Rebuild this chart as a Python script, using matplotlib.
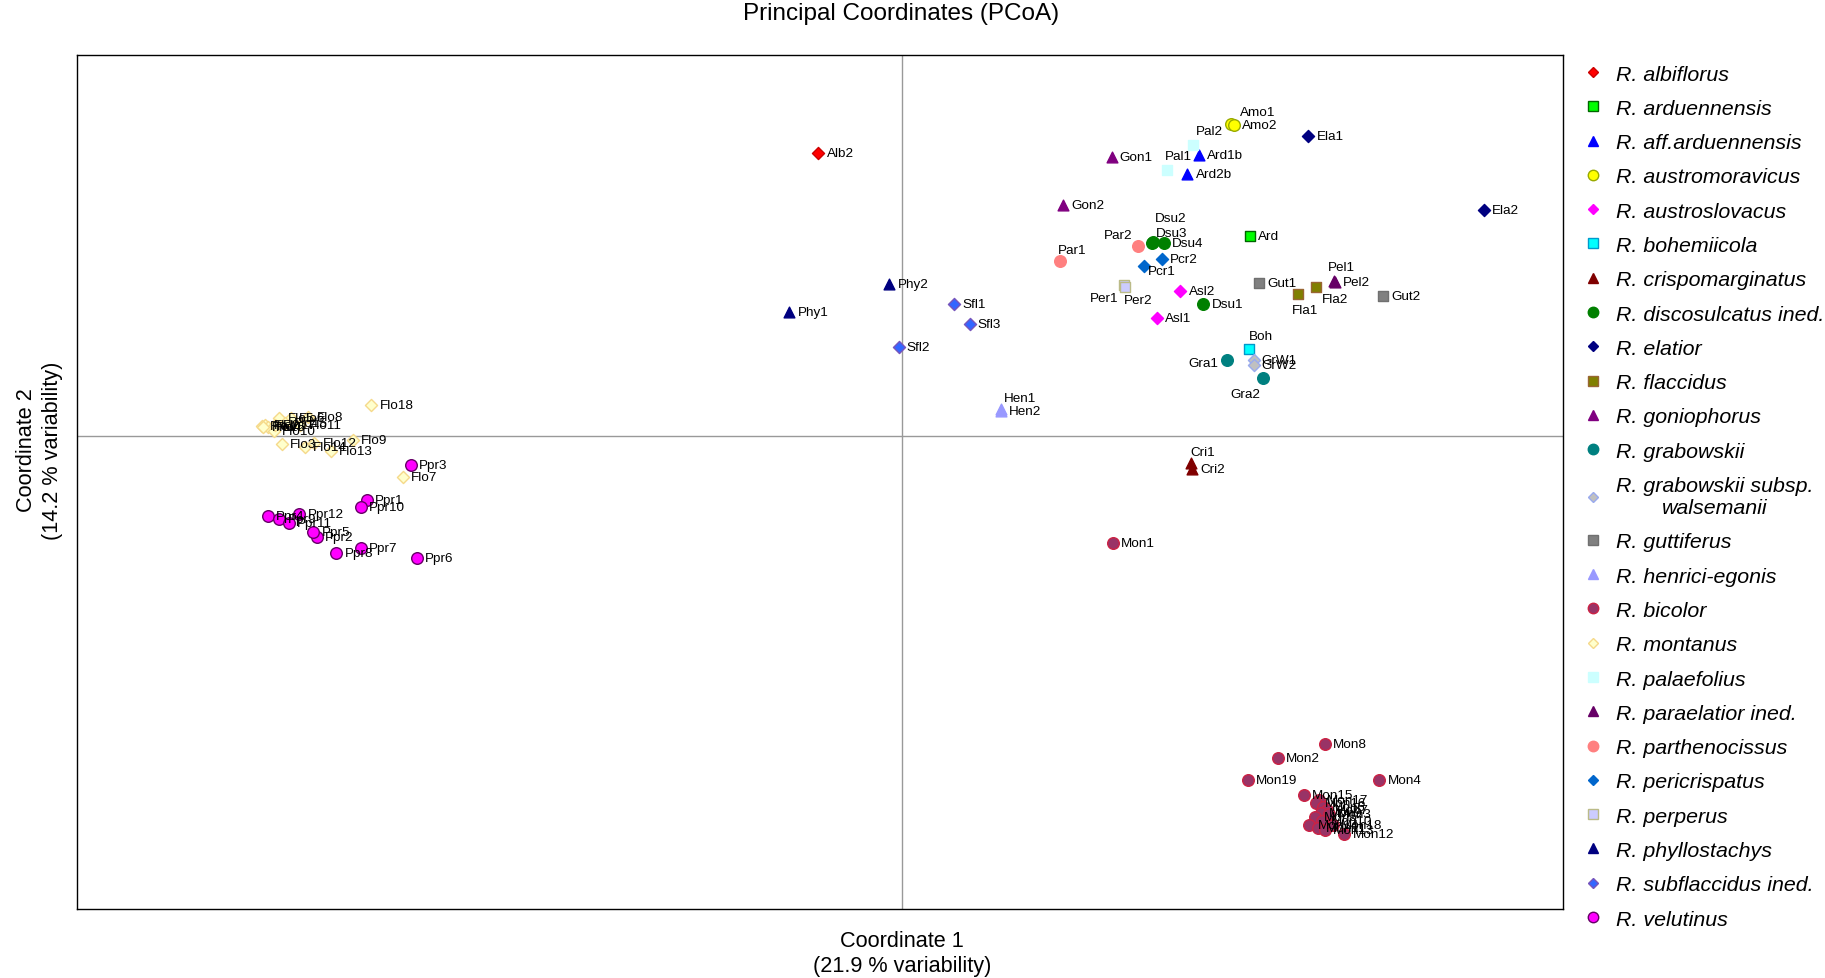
#!/usr/bin/env python3

import matplotlib
matplotlib.use("Agg")
import matplotlib.pyplot as plt
from matplotlib.lines import Line2D
from matplotlib.transforms import blended_transform_factory

plt.rcParams['font.family'] = ['Liberation Sans', 'DejaVu Sans']

# species shown in the legend (order as in the legend)
species = ["R. albiflorus", "R. arduennensis", "R. aff.arduennensis", "R. austromoravicus",
           "R. austroslovacus", "R. bohemiicola", "R. crispomarginatus",
           "R. discosulcatus ined.", "R. elatior", "R. flaccidus", "R. goniophorus",
           "R. grabowskii", "R. grabowskii subsp.\nwalsemanii", "R. guttiferus",
           "R. henrici-egonis", "R. bicolor", "R. montanus", "R. palaefolius",
           "R. paraelatior ined.", "R. parthenocissus", "R. pericrispatus", "R. perperus",
           "R. phyllostachys", "R. subflaccidus ined.", "R. velutinus"]

# samples: name, coordinate 1, coordinate 2, species index
samples = ["Alb2", "Ard", "Ard1b", "Ard2b", "Amo1", "Amo2", "Asl1", "Asl2", "Boh",
           "Cri1", "Cri2", "Dsu1", "Dsu2", "Dsu3", "Dsu4", "Ela1", "Ela2", "Fla1", "Fla2",
           "Gon1", "Gon2", "Gra1", "Gra2", "GrW1", "GrW2", "Gut1", "Gut2", "Hen1", "Hen2",
           "Mon1", "Mon2", "Mon4", "Mon8", "Mon19", "Mon15", "Mon17", "Mon16", "Mon6",
           "Mon7", "Mon9", "Mon3", "Mon5", "Mon10", "Mon14", "Mon11", "Mon13", "Mon18",
           "Mon12",
           "Flo1", "Flo2", "Flo3", "Flo4", "Flo5", "Flo6", "Flo7", "Flo8", "Flo9", "Flo10",
           "Flo11", "Flo12", "Flo13", "Flo14", "Flo15", "Flo16", "Flo17", "Flo18",
           "Pal1", "Pal2", "Pel1", "Pel2", "Par1", "Par2", "Pcr1", "Pcr2", "Per1", "Per2",
           "Phy1", "Phy2", "Sfl1", "Sfl2", "Sfl3",
           "Ppr1", "Ppr2", "Ppr3", "Ppr4", "Ppr5", "Ppr6", "Ppr7", "Ppr8", "Ppr9", "Ppr10",
           "Ppr11", "Ppr12"]

coord1 = [-0.072, 0.299, 0.255, 0.245, 0.283, 0.285, 0.219, 0.239, 0.298,
          0.248, 0.249, 0.259, 0.215, 0.216, 0.225, 0.349, 0.500, 0.340, 0.356,
          0.180, 0.138, 0.279, 0.310, 0.302, 0.302, 0.307, 0.413, 0.085, 0.085,
          0.181, 0.323, 0.410, 0.363, 0.297, 0.345, 0.358, 0.356, 0.362,
          0.365, 0.360, 0.367, 0.355, 0.361, 0.350, 0.357, 0.363, 0.370,
          0.380,
          -0.550, -0.547, -0.533, -0.545, -0.535, -0.525, -0.429, -0.510, -0.472, -0.540,
          -0.517, -0.505, -0.491, -0.513, -0.530, -0.549, -0.539, -0.456,
          0.228, 0.250, 0.371, 0.372, 0.136, 0.203, 0.208, 0.223, 0.191, 0.192,
          -0.097, -0.011, 0.045, -0.003, 0.058,
          -0.460, -0.503, -0.422, -0.545, -0.506, -0.417, -0.465, -0.486, -0.535, -0.465,
          -0.527, -0.518]

coord2 = [0.243, 0.171, 0.241, 0.225, 0.268, 0.267, 0.101, 0.124, 0.074,
          -0.024, -0.029, 0.113, 0.165, 0.166, 0.165, 0.257, 0.194, 0.122, 0.128,
          0.239, 0.198, 0.065, 0.049, 0.065, 0.061, 0.131, 0.120, 0.023, 0.021,
          -0.092, -0.277, -0.296, -0.265, -0.296, -0.309, -0.313, -0.316, -0.319,
          -0.322, -0.324, -0.325, -0.328, -0.331, -0.335, -0.337, -0.339, -0.335,
          -0.342,
          0.008, 0.009, -0.007, 0.007, 0.015, 0.015, -0.036, 0.016, -0.004, 0.004,
          0.009, -0.006, -0.013, -0.010, 0.011, 0.007, 0.009, 0.026,
          0.228, 0.250, 0.133, 0.132, 0.150, 0.163, 0.146, 0.152, 0.129, 0.128,
          0.106, 0.130, 0.113, 0.076, 0.096,
          -0.055, -0.087, -0.025, -0.069, -0.083, -0.105, -0.097, -0.101, -0.072, -0.061,
          -0.075, -0.067]

sample_species = [0, 1, 2, 2, 3, 3, 4, 4, 5,
                  6, 6, 7, 7, 7, 7, 8, 8, 9, 9,
                  10, 10, 11, 11, 12, 12, 13, 13, 14, 14] + [15] * 19 + [16] * 18 + \
                 [17, 17, 18, 18, 19, 19, 20, 20, 21, 21,
                  22, 22, 23, 23, 23] + [24] * 12

# marker, face colour, edge colour, size for every species
styles = [
    ("D", "#FF0000", "#CC0000", 38),
    ("s", "#00FF00", "#006600", 60),
    ("^", "#0000FF", "#0000FF", 60),
    ("o", "#FFFF00", "#99AA00", 70),
    ("D", "#FF00FF", "#FF00FF", 38),
    ("s", "#00FFFF", "#0099CC", 60),
    ("^", "#800000", "#800000", 60),
    ("o", "#008000", "#008000", 70),
    ("D", "#000080", "#000080", 38),
    ("s", "#808000", "#996633", 60),
    ("^", "#800080", "#800080", 60),
    ("o", "#008080", "#008080", 70),
    ("D", "#C0C0C0", "#99AAEE", 38),
    ("s", "#808080", "#707070", 60),
    ("^", "#9999FF", "#9999FF", 60),
    ("o", "#993366", "#CC2244", 70),
    ("D", "#FFFFCC", "#F5D98A", 38),
    ("s", "#CCFFFF", "#CCFFFF", 60),
    ("^", "#660066", "#660066", 60),
    ("o", "#FF8080", "#FF8080", 70),
    ("D", "#0066CC", "#0066CC", 38),
    ("s", "#CCCCFF", "#BBBB88", 60),
    ("^", "#000080", "#000080", 60),
    ("D", "#3366FF", "#7755BB", 38),
    ("o", "#FF00FF", "#660066", 70),
]

# where a label sits relative to its point (default: right)
label_pos = {
    "Amo1": (6, 8, "left"), "Pal1": (-2, 10, "left"), "Pal2": (2, 10, "left"),
    "Dsu2": (2, 18, "left"), "Dsu3": (2, 7, "left"), "Par2": (-4, 8, "right"),
    "Par1": (-2, 8, "left"), "Pcr1": (3, -4, "left"), "Per1": (-4, -9, "right"),
    "Per2": (-1, -10, "left"), "Fla1": (-4, -12, "left"), "Fla2": (4, -9, "left"),
    "Pel1": (-4, 10, "left"), "Boh": (0, 10, "left"), "Gra1": (-6, -2, "right"),
    "Gra2": (-2, -11, "right"), "Cri1": (0, 8, "left"), "Hen1": (2, 8, "left"),
}


def main():
    fig = plt.figure(figsize=(18.25, 9.79), dpi=100)
    ax = fig.add_axes([0.0421, 0.0702, 0.8144, 0.8727])

    ax.axhline(0, color="#999999", lw=1, zorder=0)
    ax.axvline(0, color="#999999", lw=1, zorder=0)

    handles = []
    for k, name in enumerate(species):
        mk, fc, ec, sz = styles[k]
        idx = [i for i, s in enumerate(sample_species) if s == k]
        ax.scatter([coord1[i] for i in idx], [coord2[i] for i in idx], marker=mk,
                   s=sz, facecolor=fc, edgecolor=ec, linewidths=1, zorder=3)
        handles.append(Line2D([], [], ls="", marker=mk, markersize=(sz ** 0.5) * 0.9,
                              markerfacecolor=fc, markeredgecolor=ec, label=name))

    for i, name in enumerate(samples):
        dx, dy, ha = label_pos.get(name, (6, 0, "left"))
        ax.annotate(name, (coord1[i], coord2[i]), xytext=(dx, dy),
                    textcoords="offset points", ha=ha, va="center",
                    fontsize=9.7, color="black", zorder=4)

    ax.set_xlim(-0.709, 0.568)
    ax.set_ylim(-0.407, 0.327)
    ax.set_xticks([])
    ax.set_yticks([])
    for sp in ax.spines.values():
        sp.set_color("black")
        sp.set_linewidth(1)

    # axis titles are centred on the origin lines
    tx = blended_transform_factory(ax.transData, fig.transFigure)
    ax.text(0, 0.0255, "Coordinate 1\n(21.9 % variability)", transform=tx,
            fontsize=15.6, ha="center", va="center", linespacing=1.3)
    ty = blended_transform_factory(fig.transFigure, ax.transData)
    ax.text(0.0215, -0.012, "Coordinate 2\n(14.2 % variability)", transform=ty,
            fontsize=15.6, ha="center", va="center", rotation=90, linespacing=1.3)
    fig.text(0.494, 0.986, "Principal Coordinates (PCoA)", fontsize=17.5,
             ha="center", va="center")

    leg = fig.legend(handles=handles, loc="upper left", bbox_to_anchor=(0.861, 0.944),
                     frameon=False, handlelength=1.0, handletextpad=0.6,
                     labelspacing=0.715, borderpad=0,
                     prop={"family": "Liberation Sans", "style": "italic", "size": 15.4})
    for t in leg.get_texts():
        t.set_multialignment("center")

    plt.savefig("out.png", dpi=100)


if __name__ == '__main__':
    main()
